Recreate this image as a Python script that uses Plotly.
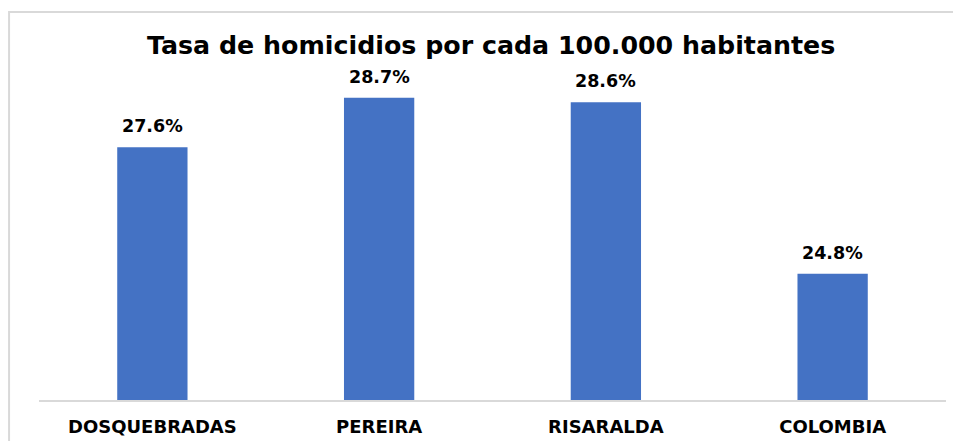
import plotly.graph_objects as go

categories = ["DOSQUEBRADAS", "PEREIRA", "RISARALDA", "COLOMBIA"]
rates = [27.6, 28.7, 28.6, 24.8]
labels = ["27.6%", "28.7%", "28.6%", "24.8%"]

BLUE = "#4472C4"
FONT = "DejaVu Sans"

fig = go.Figure()
fig.add_trace(
    go.Bar(
        x=categories,
        y=rates,
        marker={"color": BLUE, "line": {"width": 0}},
        hoverinfo="skip",
    )
)

for cat, val, lab in zip(categories, rates, labels):
    fig.add_annotation(
        x=cat,
        y=val,
        text=f"<b>{lab}</b>",
        showarrow=False,
        yshift=21,
        font={"family": FONT, "size": 17.5, "color": "#000000"},
    )

# light grey chart-area frame (cropped on right and bottom like the source)
fig.add_shape(
    type="rect",
    xref="paper",
    yref="paper",
    x0=-0.033,
    x1=1.2,
    y0=-0.3,
    y1=1.075,
    line={"color": "#d9d9d9", "width": 2},
    fillcolor="rgba(0,0,0,0)",
    layer="below",
)

# the page body has an 8px margin, so the figure is sized/offset for it
fig.update_layout(
    width=953,
    height=433,
    margin={"l": 31, "r": 15, "t": 31, "b": 41},
    paper_bgcolor="white",
    plot_bgcolor="white",
    bargap=0.69,
    showlegend=False,
    title={
        "text": "<b>Tasa de homicidios por cada 100.000 habitantes</b>",
        "x": 0.507,
        "xanchor": "center",
        "y": 0.9145,
        "yanchor": "middle",
        "font": {"family": FONT, "size": 25.3, "color": "#000000"},
    },
    xaxis={
        "showline": True,
        "linecolor": "#d9d9d9",
        "linewidth": 2,
        "ticks": "",
        "automargin": False,
        "ticklabelstandoff": 9,
        "tickfont": {"family": FONT, "size": 18, "color": "#000000", "weight": "bold"},
        "showgrid": False,
    },
    yaxis={
        "range": [22, 30],
        "visible": False,
        "showgrid": False,
    },
)

fig.write_html("out.html")
